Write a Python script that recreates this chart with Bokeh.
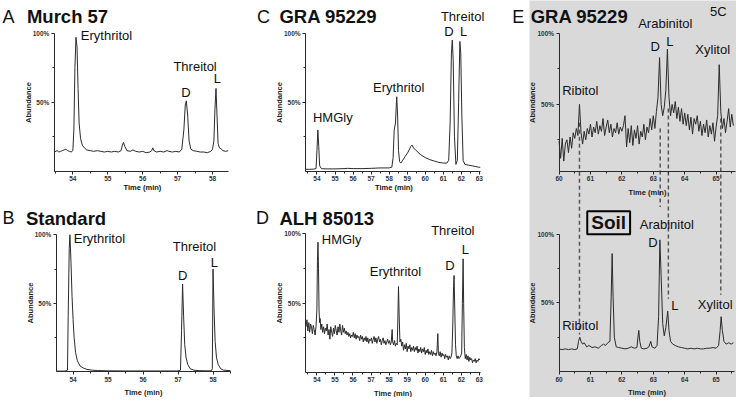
from bokeh.plotting import figure
from bokeh.models import (Range1d, Label, LinearAxis, FixedTicker,
                          SingleIntervalTicker, NumeralTickFormatter)
from bokeh.layouts import row, column
from bokeh.embed import file_html
from bokeh.resources import INLINE

# ------------------------------------------------------------------ data
# Panel A: Murch 57 (time in min, relative abundance)
a_time = [53.47, 53.55, 53.60, 53.65, 53.70, 53.75, 53.80, 53.85, 53.90, 53.95,
          54.00, 54.03, 54.06, 54.09, 54.12, 54.15, 54.18, 54.22, 54.27, 54.33,
          54.40, 54.50, 54.60, 54.70, 54.80, 54.90, 55.00, 55.10, 55.20, 55.30,
          55.38, 55.42, 55.45, 55.49, 55.55, 55.65, 55.72, 55.80, 55.90, 56.00,
          56.10, 56.20, 56.26, 56.29, 56.32, 56.40, 56.50, 56.60, 56.70, 56.75,
          56.85, 56.95, 57.05, 57.12, 57.18, 57.22, 57.25, 57.29, 57.33, 57.38,
          57.45, 57.55, 57.65, 57.75, 57.85, 57.95, 58.00, 58.04, 58.07, 58.10,
          58.13, 58.16, 58.20, 58.24, 58.30, 58.38, 58.45]
a_abund = [0.14, 0.15, 0.14, 0.145, 0.15, 0.155, 0.16, 0.15, 0.145, 0.14,
           0.15, 0.30, 0.75, 0.97, 0.90, 0.60, 0.35, 0.24, 0.19, 0.17,
           0.155, 0.15, 0.145, 0.15, 0.145, 0.14, 0.145, 0.14, 0.145, 0.14,
           0.15, 0.19, 0.21, 0.18, 0.15, 0.145, 0.155, 0.145, 0.14, 0.145,
           0.135, 0.14, 0.15, 0.17, 0.15, 0.14, 0.145, 0.14, 0.15, 0.145,
           0.14, 0.145, 0.14, 0.16, 0.30, 0.48, 0.51, 0.40, 0.22, 0.16,
           0.15, 0.145, 0.14, 0.14, 0.135, 0.145, 0.16, 0.22, 0.45, 0.60,
           0.40, 0.20, 0.17, 0.165, 0.15, 0.145, 0.15]

# Panel B: Standard
b_time = [53.52, 53.60, 53.70, 53.80, 53.84, 53.86, 53.89, 53.91, 53.94, 53.97,
          54.00, 54.03, 54.07, 54.12, 54.20, 54.30, 54.40, 54.55, 54.70, 55.00,
          55.50, 56.00, 56.50, 57.00, 57.07, 57.10, 57.13, 57.16, 57.19, 57.23,
          57.28, 57.35, 57.45, 57.60, 57.80, 57.95, 57.98, 58.00, 58.03, 58.06,
          58.10, 58.15, 58.22, 58.30, 58.50]
b_abund = [0.003, 0.003, 0.003, 0.004, 0.01, 0.40, 0.90, 1.00, 0.80, 0.55,
           0.38, 0.25, 0.14, 0.08, 0.04, 0.025, 0.015, 0.01, 0.007, 0.005,
           0.004, 0.004, 0.004, 0.004, 0.01, 0.30, 0.64, 0.40, 0.20, 0.10,
           0.05, 0.02, 0.01, 0.006, 0.005, 0.005, 0.02, 0.75, 0.45, 0.22,
           0.10, 0.05, 0.02, 0.01, 0.006]

# Panel C: GRA 95229
c_time = [53.37, 53.60, 53.80, 53.95, 54.00, 54.05, 54.10, 54.15, 54.25, 54.50,
          55.00, 55.50, 55.70, 56.00, 56.50, 57.00, 57.50, 58.00, 58.15, 58.22,
          58.28, 58.35, 58.42, 58.47, 58.52, 58.58, 58.65, 58.75, 58.90, 59.05,
          59.20, 59.27, 59.35, 59.50, 59.75, 60.00, 60.25, 60.50, 60.75, 61.00,
          61.20, 61.30, 61.38, 61.45, 61.50, 61.55, 61.62, 61.70, 61.78, 61.85,
          61.92, 61.97, 62.03, 62.10, 62.20, 62.40, 62.60, 62.80, 62.95, 63.05]
c_abund = [0.015, 0.015, 0.016, 0.02, 0.15, 0.30, 0.18, 0.04, 0.02, 0.018,
           0.018, 0.02, 0.022, 0.02, 0.02, 0.022, 0.025, 0.025, 0.03, 0.10,
           0.30, 0.35, 0.54, 0.40, 0.15, 0.07, 0.06, 0.08, 0.11, 0.14,
           0.18, 0.19, 0.17, 0.15, 0.12, 0.10, 0.085, 0.075, 0.065, 0.06,
           0.06, 0.08, 0.35, 0.85, 0.95, 0.80, 0.25, 0.05, 0.08, 0.50,
           0.94, 0.85, 0.40, 0.08, 0.05, 0.045, 0.04, 0.035, 0.03, 0.03]

# Panel D: ALH 85013
d_time = [53.40, 53.45, 53.50, 53.55, 53.60, 53.65, 53.70, 53.75, 53.80, 53.85,
          53.90, 53.95, 54.00, 54.03, 54.06, 54.09, 54.12, 54.15, 54.18, 54.22,
          54.27, 54.32, 54.37, 54.42, 54.47, 54.52, 54.57, 54.62, 54.67, 54.72,
          54.77, 54.82, 54.87, 54.92, 54.97, 55.02, 55.07, 55.12, 55.17, 55.22,
          55.27, 55.32, 55.37, 55.42, 55.47, 55.52, 55.57, 55.62, 55.67, 55.72,
          55.77, 55.82, 55.87, 55.92, 55.97, 56.02, 56.07, 56.12, 56.17, 56.22,
          56.27, 56.32, 56.37, 56.42, 56.47, 56.52, 56.57, 56.62, 56.67, 56.72,
          56.77, 56.82, 56.87, 56.92, 56.97, 57.02, 57.07, 57.12, 57.17, 57.22,
          57.27, 57.32, 57.37, 57.42, 57.47, 57.52, 57.57, 57.62, 57.67, 57.72,
          57.77, 57.82, 57.87, 57.92, 57.97, 58.02, 58.07, 58.12, 58.17, 58.20,
          58.25, 58.30, 58.35, 58.40, 58.45, 58.48, 58.52, 58.56, 58.60, 58.65,
          58.70, 58.75, 58.80, 58.85, 58.90, 58.95, 59.00, 59.05, 59.10, 59.15,
          59.20, 59.25, 59.30, 59.35, 59.40, 59.45, 59.50, 59.55, 59.60, 59.65,
          59.70, 59.75, 59.80, 59.85, 59.90, 59.95, 60.00, 60.05, 60.10, 60.15,
          60.20, 60.25, 60.30, 60.35, 60.40, 60.45, 60.50, 60.55, 60.60, 60.65,
          60.70, 60.73, 60.78, 60.83, 60.88, 60.93, 60.98, 61.03, 61.08, 61.13,
          61.18, 61.23, 61.28, 61.33, 61.38, 61.43, 61.48, 61.53, 61.57, 61.60,
          61.64, 61.68, 61.72, 61.77, 61.82, 61.87, 61.92, 61.97, 62.02, 62.06,
          62.10, 62.13, 62.17, 62.22, 62.27, 62.32, 62.37, 62.42, 62.47, 62.52,
          62.57, 62.62, 62.67, 62.72, 62.77, 62.82, 62.87, 62.92, 62.97, 63.02]
d_abund = [0.33, 0.38, 0.30, 0.36, 0.29, 0.35, 0.33, 0.28, 0.34, 0.31,
           0.27, 0.33, 0.45, 0.80, 0.94, 0.75, 0.45, 0.36, 0.39, 0.31,
           0.35, 0.29, 0.33, 0.28, 0.32, 0.30, 0.35, 0.27, 0.31, 0.24,
           0.33, 0.29, 0.26, 0.32, 0.28, 0.34, 0.30, 0.27, 0.33, 0.29,
           0.35, 0.30, 0.27, 0.34, 0.29, 0.32, 0.28, 0.30, 0.27, 0.29,
           0.26, 0.28, 0.25, 0.27, 0.26, 0.29, 0.25, 0.28, 0.24, 0.27,
           0.25, 0.26, 0.23, 0.27, 0.24, 0.26, 0.22, 0.25, 0.23, 0.26,
           0.22, 0.25, 0.21, 0.24, 0.23, 0.25, 0.21, 0.24, 0.26, 0.22,
           0.25, 0.21, 0.24, 0.26, 0.22, 0.24, 0.20, 0.23, 0.25, 0.21,
           0.23, 0.20, 0.22, 0.24, 0.21, 0.23, 0.20, 0.22, 0.31, 0.22,
           0.20, 0.23, 0.19, 0.21, 0.20, 0.35, 0.62, 0.40, 0.22, 0.24,
           0.19, 0.22, 0.16, 0.20, 0.17, 0.21, 0.15, 0.19, 0.17, 0.20,
           0.15, 0.18, 0.16, 0.19, 0.15, 0.18, 0.16, 0.19, 0.14, 0.17,
           0.15, 0.18, 0.14, 0.17, 0.15, 0.18, 0.13, 0.16, 0.14, 0.17,
           0.13, 0.15, 0.13, 0.16, 0.12, 0.15, 0.13, 0.14, 0.12, 0.15,
           0.28, 0.14, 0.12, 0.15, 0.11, 0.14, 0.12, 0.13, 0.10, 0.13,
           0.11, 0.12, 0.09, 0.12, 0.10, 0.11, 0.14, 0.35, 0.62, 0.70,
           0.45, 0.20, 0.12, 0.10, 0.12, 0.10, 0.11, 0.12, 0.14, 0.50,
           0.82, 0.50, 0.18, 0.10, 0.13, 0.09, 0.12, 0.08, 0.11, 0.09,
           0.10, 0.07, 0.09, 0.08, 0.10, 0.07, 0.09, 0.08, 0.10, 0.09]

# Panel E (upper): GRA 95229, 5C
e_top_time = [60.00, 60.05, 60.10, 60.15, 60.20, 60.25, 60.30, 60.35, 60.40, 60.45,
              60.50, 60.55, 60.60, 60.65, 60.70, 60.75, 60.80, 60.85, 60.90, 60.95,
              61.00, 61.05, 61.10, 61.15, 61.20, 61.25, 61.30, 61.35, 61.40, 61.45,
              61.50, 61.55, 61.60, 61.65, 61.70, 61.75, 61.80, 61.85, 61.90, 61.95,
              62.00, 62.05, 62.10, 62.15, 62.20, 62.25, 62.30, 62.35, 62.40, 62.45,
              62.50, 62.55, 62.60, 62.65, 62.70, 62.75, 62.80, 62.85, 62.90, 62.95,
              63.00, 63.05, 63.10, 63.15, 63.20, 63.25, 63.30, 63.35, 63.40, 63.45,
              63.50, 63.55, 63.60, 63.65, 63.70, 63.75, 63.80, 63.85, 63.90, 63.95,
              64.00, 64.05, 64.10, 64.15, 64.20, 64.25, 64.30, 64.35, 64.40, 64.45,
              64.50, 64.55, 64.60, 64.65, 64.70, 64.75, 64.80, 64.85, 64.90, 64.95,
              65.00, 65.05, 65.10, 65.15, 65.20, 65.25, 65.30, 65.35, 65.40, 65.45,
              65.50, 65.55]
e_top_abund = [0.24, 0.12, 0.26, 0.10, 0.22, 0.25, 0.16, 0.27, 0.19, 0.30,
               0.26, 0.33, 0.28, 0.50, 0.30, 0.22, 0.31, 0.25, 0.33, 0.29,
               0.36, 0.27, 0.34, 0.30, 0.38, 0.29, 0.35, 0.31, 0.40, 0.28,
               0.34, 0.39, 0.30, 0.36, 0.27, 0.33, 0.30, 0.37, 0.29, 0.34,
               0.31, 0.35, 0.42, 0.20, 0.33, 0.23, 0.35, 0.21, 0.32, 0.26,
               0.35, 0.22, 0.31, 0.27, 0.36, 0.25, 0.34, 0.30, 0.40, 0.32,
               0.42, 0.33, 0.45, 0.55, 0.83, 0.50, 0.42, 0.48, 0.60, 0.89,
               0.55, 0.42, 0.50, 0.44, 0.52, 0.40, 0.48, 0.38, 0.47, 0.36,
               0.44, 0.35, 0.43, 0.32, 0.41, 0.29, 0.40, 0.36, 0.42, 0.31,
               0.38, 0.28, 0.36, 0.30, 0.39, 0.27, 0.35, 0.29, 0.37, 0.24,
               0.34, 0.42, 0.78, 0.45, 0.33, 0.40, 0.30, 0.38, 0.47, 0.34,
               0.43, 0.35]

# Panel E (lower): Soil
e_bot_time = [60.00, 60.10, 60.20, 60.30, 60.40, 60.50, 60.58, 60.62, 60.66, 60.70,
              60.75, 60.80, 60.88, 60.95, 61.05, 61.15, 61.25, 61.35, 61.42, 61.48,
              61.55, 61.62, 61.66, 61.69, 61.72, 61.76, 61.82, 61.90, 62.00, 62.10,
              62.20, 62.30, 62.40, 62.48, 62.51, 62.54, 62.57, 62.62, 62.70, 62.80,
              62.86, 62.92, 62.96, 63.05, 63.12, 63.17, 63.21, 63.25, 63.30, 63.35,
              63.40, 63.46, 63.50, 63.55, 63.62, 63.70, 63.80, 63.90, 64.00, 64.10,
              64.20, 64.30, 64.40, 64.50, 64.60, 64.70, 64.80, 64.90, 65.00, 65.08,
              65.13, 65.16, 65.20, 65.25, 65.32, 65.40, 65.48, 65.55]
e_bot_abund = [0.165, 0.16, 0.165, 0.16, 0.165, 0.16, 0.165, 0.22, 0.25, 0.22,
               0.20, 0.21, 0.18, 0.19, 0.175, 0.18, 0.17, 0.19, 0.20, 0.19,
               0.21, 0.22, 0.55, 0.86, 0.55, 0.25, 0.18, 0.175, 0.17, 0.165,
               0.17, 0.18, 0.17, 0.175, 0.25, 0.30, 0.22, 0.17, 0.165, 0.17,
               0.18, 0.22, 0.18, 0.17, 0.19, 0.40, 0.96, 0.70, 0.35, 0.26,
               0.32, 0.44, 0.30, 0.22, 0.20, 0.19, 0.18, 0.175, 0.17, 0.165,
               0.17, 0.165, 0.17, 0.165, 0.165, 0.17, 0.17, 0.175, 0.17, 0.19,
               0.30, 0.40, 0.30, 0.22, 0.20, 0.21, 0.20, 0.21]

# dashed correlation lines in E: retention time, level in upper trace, level in lower plot
link_time = [60.65, 63.22, 63.48, 65.15]
link_top_abund = [0.37, 0.33, 0.47, 0.40]
link_bot_abund = [0.27, 1.20, 0.53, 0.56]

# ------------------------------------------------------------------ layout
REF_W, REF_H = 752.0, 413.0
OUT_W, OUT_H = 736, 397
SX, SY = OUT_W / REF_W, OUT_H / REF_H

FONT = "Liberation Sans"
INK = "#2a2a2a"
TRACE = "#2b2b2b"
PANEL_GRAY = "#d9d9d9"


def px(v, s):
    return int(round(v * s))


def to_data(frame, xr, yr, rx, ry):
    """reference-pixel position -> data coordinates of a plot whose axes box is `frame`"""
    t = xr[0] + (rx - frame[0]) / (frame[2] - frame[0]) * (xr[1] - xr[0])
    v = yr[0] + (frame[3] - ry) / (frame[3] - frame[1]) * (yr[1] - yr[0])
    return t, v


def make_fig(box, frame, xr, yr, bg="white"):
    """figure whose drawing area is the whole box; axes are placed inside it"""
    w = px(box[2], SX) - px(box[0], SX)
    h = px(box[3], SY) - px(box[1], SY)
    x_lo, y_hi = to_data(frame, xr, yr, box[0], box[1])
    x_hi, y_lo = to_data(frame, xr, yr, box[2], box[3])
    p = figure(width=w, height=h,
               x_range=Range1d(x_lo, x_hi), y_range=Range1d(y_lo, y_hi),
               min_border_left=0, min_border_right=0, min_border_top=0, min_border_bottom=0,
               x_axis_location=None, y_axis_location=None,
               output_backend="svg", toolbar_location=None,
               background_fill_color=bg, border_fill_color=bg)
    p.outline_line_color = None
    p.grid.visible = False
    return p


def style_axis(ax, label=None, kind="x", ylabel_standoff=-3):
    ax.axis_line_color = INK
    ax.axis_line_width = 1
    ax.major_tick_line_color = INK
    ax.minor_tick_line_color = INK
    ax.major_tick_out = 3
    ax.major_tick_in = 0
    ax.minor_tick_out = 2
    ax.minor_tick_in = 0
    ax.major_label_standoff = 2
    ax.major_label_text_font = FONT
    ax.major_label_text_font_size = "6.5px"
    ax.major_label_text_font_style = "bold"
    ax.major_label_text_color = "#333333"
    ax.axis_label = label
    ax.axis_label_text_font = FONT
    ax.axis_label_text_font_size = "7.5px"
    ax.axis_label_text_font_style = "bold"
    ax.axis_label_text_color = "#222222"
    ax.axis_label_standoff = 3 if kind == "x" else ylabel_standoff
    if kind == "x":
        ax.ticker = SingleIntervalTicker(interval=1, num_minor_ticks=2)
    else:
        ax.ticker = FixedTicker(ticks=[0.5, 1.0], minor_ticks=[0.25, 0.75])
        ax.formatter = NumeralTickFormatter(format="0%")


def add_axes(p, x_at, x_bounds, y_at, y_bounds, xlabel="Time (min)",
             y_range_name="default", ylabel_standoff=-3):
    xa = LinearAxis(fixed_location=x_at, bounds=x_bounds)
    style_axis(xa, xlabel, "x")
    p.add_layout(xa, "below")
    ya = LinearAxis(fixed_location=y_at, bounds=y_bounds, y_range_name=y_range_name)
    style_axis(ya, "Abundance", "y", ylabel_standoff)
    p.add_layout(ya, "left")


def text(p, x, y, s, size="13px", bold=False, align="left", baseline="middle", **kw):
    lab = Label(x=x, y=y, text=s, text_font=FONT, text_font_size=size,
                text_font_style="bold" if bold else "normal", text_color="#111111",
                text_align=align, text_baseline=baseline, **kw)
    p.add_layout(lab)
    return lab


def titles(p, frame, xr, yr, letter, name, rx_letter, rx_name, ry_base):
    t, v = to_data(frame, xr, yr, rx_letter, ry_base)
    text(p, t, v, letter, size="18px", baseline="alphabetic")
    t, v = to_data(frame, xr, yr, rx_name, ry_base)
    text(p, t, v, name, size="18.5px", bold=True, baseline="alphabetic")


YR = (0.0, 1.0)


def standard_panel(box, frame, xr, time, abund, xlabel_axis):
    p = make_fig(box, frame, xr, YR)
    add_axes(p, 0.0, xr, xr[0], YR, "Time (min)" if xlabel_axis else None)
    p.line(time, abund, line_color=TRACE, line_width=1)
    return p


# ---- Panel A
A_BOX, A_FRAME, A_XR = (0, 0, 259.5, 200), (55, 34, 233, 178), (53.47, 58.46)
pa = standard_panel(A_BOX, A_FRAME, A_XR, a_time, a_abund, False)
titles(pa, A_FRAME, A_XR, YR, "A", "Murch 57", 2, 27, 16.7)
t, v = to_data(A_FRAME, A_XR, YR, 145, 199.0)
text(pa, t, v, "Time (min)", size="7.5px", bold=True, align="center", baseline="bottom")
for s, tt, vv, al in [("Erythritol", 54.23, 0.98, "left"), ("Threitol", 56.88, 0.76, "left"),
                      ("D", 57.24, 0.57, "center"), ("L", 58.14, 0.67, "center")]:
    text(pa, tt, vv, s, align=al)

# ---- Panel B
B_BOX, B_FRAME, B_XR = (0, 200, 259.5, 413), (57, 244, 235, 386), (53.52, 58.5)
pb = standard_panel(B_BOX, B_FRAME, B_XR, b_time, b_abund, True)
titles(pb, B_FRAME, B_XR, YR, "B", "Standard", 2, 26, 226.7)
for s, tt, vv, al in [("Erythritol", 54.02, 0.97, "left"), ("Threitol", 56.85, 0.915, "left"),
                      ("D", 57.13, 0.70, "center"), ("L", 58.04, 0.80, "center")]:
    text(pb, tt, vv, s, align=al)

# ---- Panel C
C_BOX, C_FRAME, C_XR = (259.5, 0, 540.5, 200), (311.7, 34, 490.2, 178), (53.37, 63.05)
pc = standard_panel(C_BOX, C_FRAME, C_XR, c_time, c_abund, False)
titles(pc, C_FRAME, C_XR, YR, "C", "GRA 95229", 262, 285, 16.7)
t, v = to_data(C_FRAME, C_XR, YR, 402, 199.0)
text(pc, t, v, "Time (min)", size="7.5px", bold=True, align="center", baseline="bottom")
t, v = to_data(C_FRAME, C_XR, YR, 523, 16.7)
text(pc, t, v, "E", size="18px", baseline="alphabetic")
for s, tt, vv, al in [("HMGly", 53.78, 0.39, "left"), ("Erythritol", 57.11, 0.61, "left"),
                      ("Threitol", 60.87, 1.12, "left"), ("D", 61.32, 1.01, "center"),
                      ("L", 62.12, 1.01, "center")]:
    text(pc, tt, vv, s, align=al)

# ---- Panel D
D_BOX, D_FRAME, D_XR = (259.5, 200, 540.5, 413), (312, 243, 490, 387), (53.39, 63.04)
pd_ = standard_panel(D_BOX, D_FRAME, D_XR, d_time, d_abund, True)
titles(pd_, D_FRAME, D_XR, YR, "D", "ALH 85013", 261, 285, 226.7)
for s, tt, vv, al in [("HMGly", 54.27, 0.956, "left"), ("Erythritol", 56.93, 0.73, "left"),
                      ("Threitol", 60.33, 1.026, "left"), ("D", 61.37, 0.77, "center"),
                      ("L", 62.23, 0.887, "center")]:
    text(pd_, tt, vv, s, align=al)

# ---- Panel E (one gray area holding two stacked chromatograms)
E_BOX = (540.5, 0, 752, 413)
E_XR = (60.0, 65.65)
E_FRAME_BOT = (570.7, 243.3, 752, 386.0)   # lower plot: 0 % row 386, 100 % row 243.3
E_FRAME_TOP = (570.7, 34.3, 752, 181.8)    # upper plot: 0 % row 181.8, 100 % row 34.3

pe = make_fig(E_BOX, E_FRAME_BOT, E_XR, YR, bg=PANEL_GRAY)
_, top_lo = to_data(E_FRAME_TOP, E_XR, YR, 0, E_BOX[3])
_, top_hi = to_data(E_FRAME_TOP, E_XR, YR, 0, E_BOX[1])
pe.extra_y_ranges = {"top": Range1d(top_lo, top_hi)}


def top_to_bot(v):
    ry = E_FRAME_TOP[3] - v * (E_FRAME_TOP[3] - E_FRAME_TOP[1])
    return to_data(E_FRAME_BOT, E_XR, YR, 0, ry)[1]


top_axis_row = 177.7
top_axis_v_bot = to_data(E_FRAME_BOT, E_XR, YR, 0, top_axis_row)[1]
top_axis_v_top = to_data(E_FRAME_TOP, E_XR, YR, 0, top_axis_row)[1]

xa_top = LinearAxis(fixed_location=top_axis_v_bot, bounds=(60, 65.62))
style_axis(xa_top, "Time (min)", "x")
pe.add_layout(xa_top, "below")
ya_top = LinearAxis(y_range_name="top", fixed_location=60.0, bounds=(top_axis_v_top, 1.0))
style_axis(ya_top, "Abundance", "y", -2)
pe.add_layout(ya_top, "left")
add_axes(pe, 0.0, (60, 65.58), 60.0, YR, ylabel_standoff=-2)

pe.segment(x0=link_time, y0=[top_to_bot(v) for v in link_top_abund],
           x1=link_time, y1=link_bot_abund,
           line_color="#555555", line_width=1.5, line_dash="4 3")
pe.line(e_top_time, e_top_abund, line_color=TRACE, line_width=1, y_range_name="top")
pe.line(e_bot_time, e_bot_abund, line_color=TRACE, line_width=1)

t, v = to_data(E_FRAME_TOP, E_XR, YR, 541.7, 16.7)
text(pe, t, v, "GRA 95229", size="18.5px", bold=True, baseline="alphabetic", y_range_name="top")
text(pe, 64.81, 1.153, "5C", size="13px", y_range_name="top")
for s, tt, vv, al in [("Ribitol", 60.10, 0.60, "left"), ("Arabinitol", 62.52, 1.067, "left"),
                      ("D", 63.06, 0.91, "center"), ("L", 63.53, 0.946, "center"),
                      ("Xylitol", 64.34, 0.885, "left")]:
    text(pe, tt, vv, s, align=al, y_range_name="top")
for s, tt, vv, al in [("Ribitol", 60.10, 0.334, "left"), ("Arabinitol", 62.57, 1.07, "left"),
                      ("D", 62.99, 0.94, "center"), ("L", 63.69, 0.48, "center"),
                      ("Xylitol", 64.42, 0.486, "left")]:
    text(pe, tt, vv, s, align=al)
text(pe, 61.58, 1.084, "Soil", size="19px", bold=True, align="center",
     border_line_color="black", border_line_width=2,
     background_fill_color=PANEL_GRAY, padding=(4, 1))

layout = row(column(pa, pb), column(pc, pd_), pe)

with open("out.html", "w") as f:
    f.write(file_html(layout, INLINE))
